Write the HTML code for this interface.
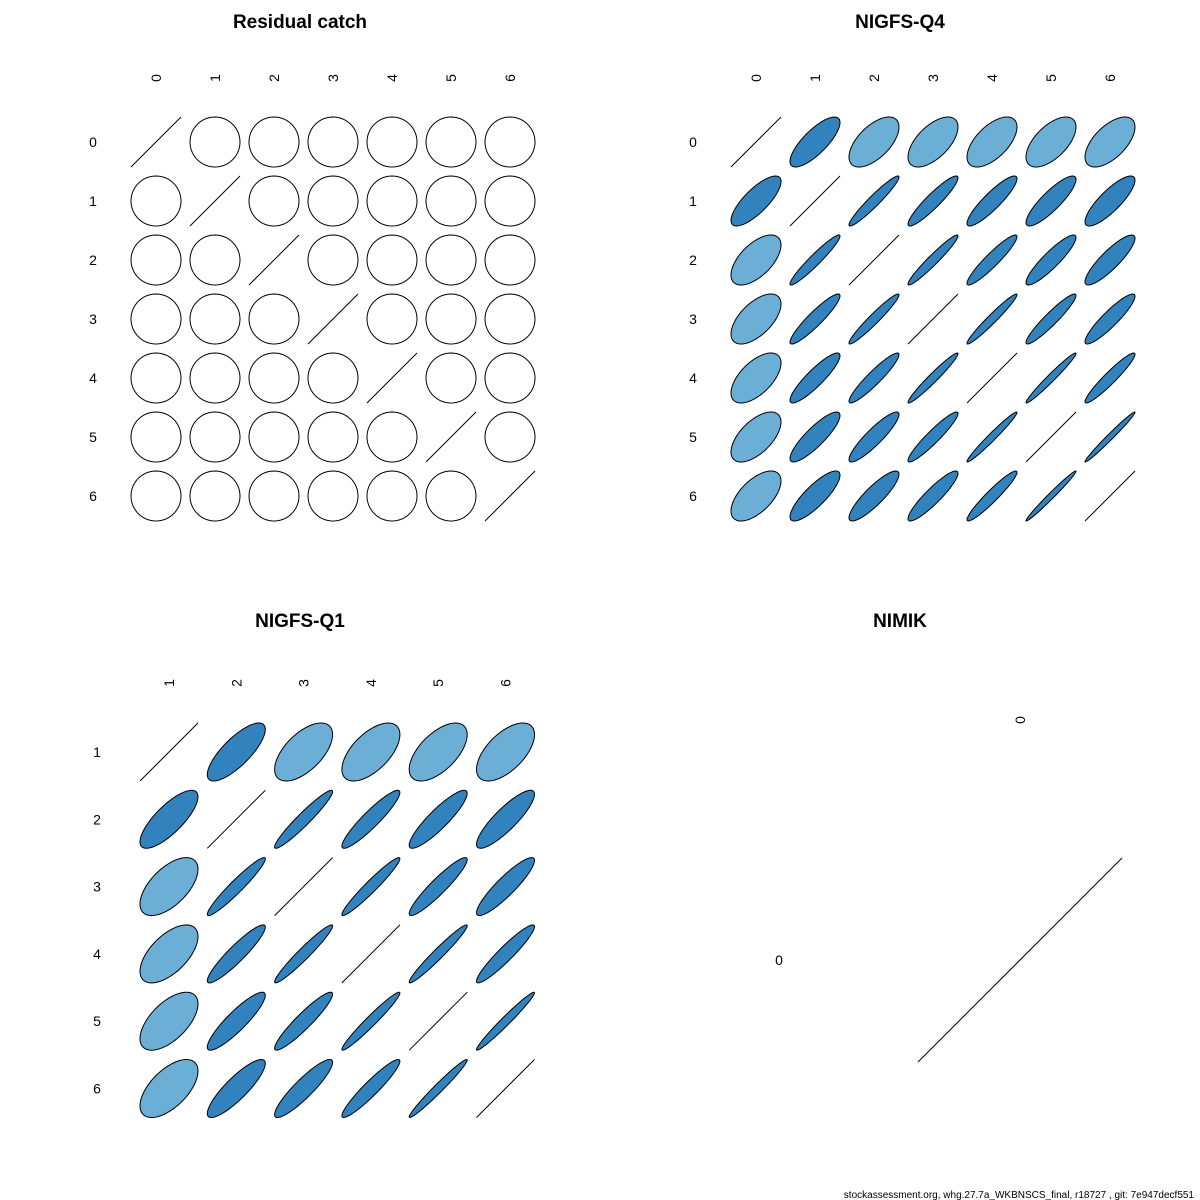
<!DOCTYPE html>
<html><head><meta charset="utf-8"><style>
html,body{margin:0;padding:0;background:#fff;width:1200px;height:1200px;overflow:hidden}
svg{display:block}
text{font-family:"Liberation Sans",sans-serif;fill:#000}
</style></head><body>
<svg id="s" width="1200" height="1200" xmlns="http://www.w3.org/2000/svg">
<text x="300" y="28" font-size="19" font-weight="bold" text-anchor="middle">Residual catch</text>
<text x="900" y="28" font-size="19" font-weight="bold" text-anchor="middle">NIGFS-Q4</text>
<text x="300" y="627" font-size="19" font-weight="bold" text-anchor="middle">NIGFS-Q1</text>
<text x="900" y="627" font-size="19" font-weight="bold" text-anchor="middle">NIMIK</text>
<text x="1194" y="1198" font-size="10" text-anchor="end">stockassessment.org, whg.27.7a_WKBNSCS_final, r18727 , git: 7e947decf551</text>
</svg>
<script>
var s=document.getElementById('s'),NS='http://www.w3.org/2000/svg';
function el(n,a,t){var e=document.createElementNS(NS,n);for(var k in a)e.setAttribute(k,a[k]);if(t!==undefined)e.textContent=t;s.appendChild(e);}
function rho(i,j){
 if(i===j)return 1;
 var a=Math.min(i,j),b=Math.max(i,j);
 if(a===0)return b===1?0.78:0.6;
 return 0.955-0.035*(b-a-1)+0.004*(a+b-3); }
function ell(cx,cy,r,p){
 if(p>=0.999){el('line',{x1:cx-r,y1:cy+r,x2:cx+r,y2:cy-r,stroke:'#000','stroke-width':1});return;}
 var d=Math.acos(p),pts=[];
 for(var k=0;k<72;k++){var t=k/72*2*Math.PI;pts.push((cx+r*Math.cos(t+d/2)).toFixed(2)+','+(cy-r*Math.cos(t-d/2)).toFixed(2));}
 var fill=p===0?'none':(p<0.7?'#6baed6':'#3182bd');
 el('polygon',{points:pts.join(' '),fill:fill,stroke:'#000','stroke-width':1});
}
function panel(x0,y0,dx,r,idx,lblX,lblY,mat){
 var n=idx.length;
 for(var c=0;c<n;c++){el('text',{x:0,y:0,'font-size':14,'text-anchor':'middle',transform:'translate('+(x0+c*dx+5)+','+lblY+') rotate(-90)'},idx[c]);}
 for(var rr=0;rr<n;rr++){el('text',{x:lblX,y:y0+rr*dx+5,'font-size':14,'text-anchor':'middle'},idx[rr]);
  for(var c=0;c<n;c++){ell(x0+c*dx,y0+rr*dx,r,mat(idx[rr],idx[c]));}}
}
panel(156,142,59,25,[0,1,2,3,4,5,6],93,78,function(i,j){return i===j?1:0;});
panel(756,142,59,25,[0,1,2,3,4,5,6],693,78,rho);
panel(169,752,67.3,29,[1,2,3,4,5,6],97,683,function(i,j){return rho(i-1,j-1);});
panel(1020,960,0,102,[0],779,720,function(){return 1;});
</script>
</body></html>
